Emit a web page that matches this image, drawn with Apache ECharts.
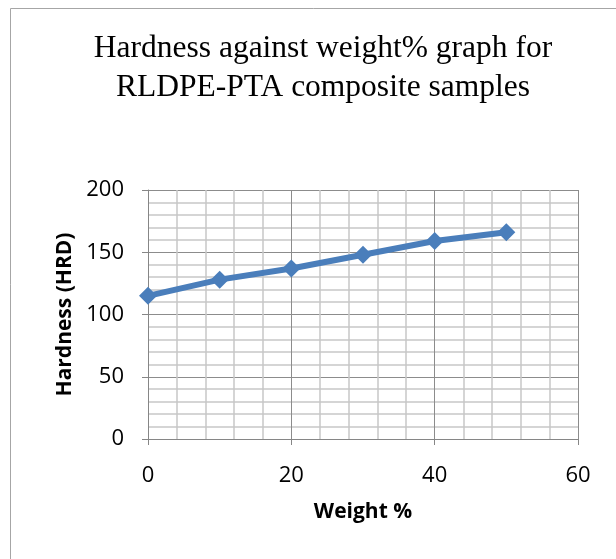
<!DOCTYPE html>
<html>
<head>
<meta charset="utf-8">
<script src="https://cdn.jsdelivr.net/npm/echarts@6/dist/echarts.min.js"></script>
<style>
    html, body { margin: 0; padding: 0; background: #fff; }
    #chart { width: 616px; height: 559px; }
</style>
</head>
<body>
<div id="chart"></div>
<script>
const weightPct = [0, 10, 20, 30, 40, 50];
const hardness = [115, 128, 137, 148, 159, 166];
const xTicks = [0, 20, 40, 60];
const yTicks = [0, 50, 100, 150, 200];

const labelFont = '"Open Sans", sans-serif';

const chart = echarts.init(document.getElementById("chart"));

chart.setOption({
    animation: false,
    title: {
        text: "Hardness against weight% graph for\nRLDPE-PTA composite samples",
        left: 318,
        textAlign: "center",
        top: 24,
        textStyle: {
            fontFamily: '"Liberation Serif", serif',
            fontWeight: "normal",
            fontSize: 31.5,
            lineHeight: 39,
            color: "#000"
        }
    },
    graphic: [{
        type: "rect",
        shape: { x: 10.5, y: 8.5, width: 700, height: 700 },
        style: { fill: "none", stroke: "#a6a6a6", lineWidth: 1 },
        silent: true
    }],
    grid: {
        left: 148,
        top: 190,
        right: 38,
        bottom: 120
    },
    xAxis: {
        type: "value",
        min: xTicks[0],
        max: xTicks[xTicks.length - 1],
        interval: 20,
        name: "Weight %",
        nameLocation: "middle",
        nameGap: 63,
        nameTextStyle: { fontFamily: labelFont, fontWeight: "bold", fontSize: 21, color: "#000" },
        axisLine: { lineStyle: { color: "#868686", width: 1 } },
        axisTick: { show: true, length: 6, lineStyle: { color: "#868686" } },
        axisLabel: { margin: 26, fontFamily: labelFont, fontSize: 22, color: "#000" },
        splitLine: { show: true, lineStyle: { color: "#8c8c8c", width: 1 } },
        minorTick: { show: false, splitNumber: 5 },
        minorSplitLine: { show: true, lineStyle: { color: "#c8c8c8", width: 1.5 } }
    },
    yAxis: {
        type: "value",
        min: yTicks[0],
        max: yTicks[yTicks.length - 1],
        interval: 50,
        name: "Hardness (HRD)",
        nameLocation: "middle",
        nameGap: 71,
        nameTextStyle: { fontFamily: labelFont, fontWeight: "bold", fontSize: 21, color: "#000" },
        axisLine: { show: true, lineStyle: { color: "#868686", width: 1 } },
        axisTick: { show: true, length: 6, lineStyle: { color: "#868686" } },
        axisLabel: { margin: 24, fontFamily: labelFont, fontSize: 22, color: "#000" },
        splitLine: { show: true, lineStyle: { color: "#8c8c8c", width: 1 } },
        minorTick: { show: false, splitNumber: 5 },
        minorSplitLine: { show: true, lineStyle: { color: "#c8c8c8", width: 1.5 } }
    },
    series: [{
        type: "line",
        data: weightPct.map((w, i) => [w, hardness[i]]),
        symbol: "diamond",
        symbolSize: 18,
        lineStyle: { color: "#4a7ebb", width: 6 },
        itemStyle: { color: "#4a7ebb" }
    }]
});
</script>
</body>
</html>
